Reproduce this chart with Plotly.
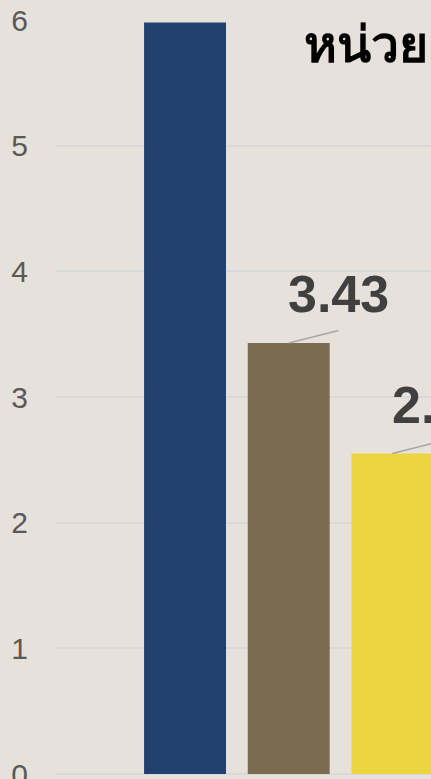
import plotly.graph_objects as go

categories = ["A", "B", "C"]
values = [5.98, 3.43, 2.55]
colors = ["#21406E", "#7B6C50", "#ECD540"]
label_text = ["", "3.43", "2.55"]
y_ticks = [0, 1, 2, 3, 4, 5, 6]
unit_text = "หน่วย"

xpos = list(range(len(categories)))
# leader line offsets (in data units)
dx = 0.48
dy = 0.10

fig = go.Figure()
fig.add_trace(go.Bar(
    x=xpos, y=values, marker=dict(color=colors, line=dict(width=0)),
    width=0.79, showlegend=False, hoverinfo="skip",
))
for i, v in enumerate(values):
    if not label_text[i]:
        continue
    fig.add_trace(go.Scatter(
        x=[xpos[i], xpos[i] + dx], y=[v, v + dy], mode="lines",
        line=dict(color="#A6A6A6", width=1.5), showlegend=False, hoverinfo="skip",
        cliponaxis=False,
    ))
    fig.add_annotation(
        x=xpos[i], y=v, xref="x", yref="y", text="<b>" + label_text[i] + "</b>",
        showarrow=False, xanchor="center", yanchor="bottom", xshift=50, yshift=18,
        font=dict(family="Liberation Sans, Arial", size=52, color="#404040"),
    )

fig.add_annotation(
    x=0.657, y=1.0, xref="paper", yref="paper", text="<b>" + unit_text + "</b>",
    showarrow=False, xanchor="left", yanchor="top", yshift=13,
    font=dict(size=50, color="#000000"),
)

fig.update_layout(
    width=431, height=779,
    margin=dict(l=55, r=0, t=20, b=5, autoexpand=False),
    paper_bgcolor="#E6E2DB", plot_bgcolor="#E6E2DB",
    xaxis=dict(range=[-1.254, 2.372], showticklabels=False, showgrid=False,
               zeroline=False, showline=False, automargin=False),
    yaxis=dict(range=[0, 6], tickvals=y_ticks, showgrid=True, gridcolor="#D9D9D9",
               gridwidth=1.5, zeroline=True, zerolinecolor="#D9D9D9", zerolinewidth=1.5,
               showline=False, ticklabelstandoff=26, ticklabeloverflow="allow",
               automargin=False,
               tickfont=dict(family="Liberation Sans, Arial", size=30, color="#595959")),
)

fig.write_html("out.html", config={"displayModeBar": False},
               post_script="document.body.style.margin='0';")
